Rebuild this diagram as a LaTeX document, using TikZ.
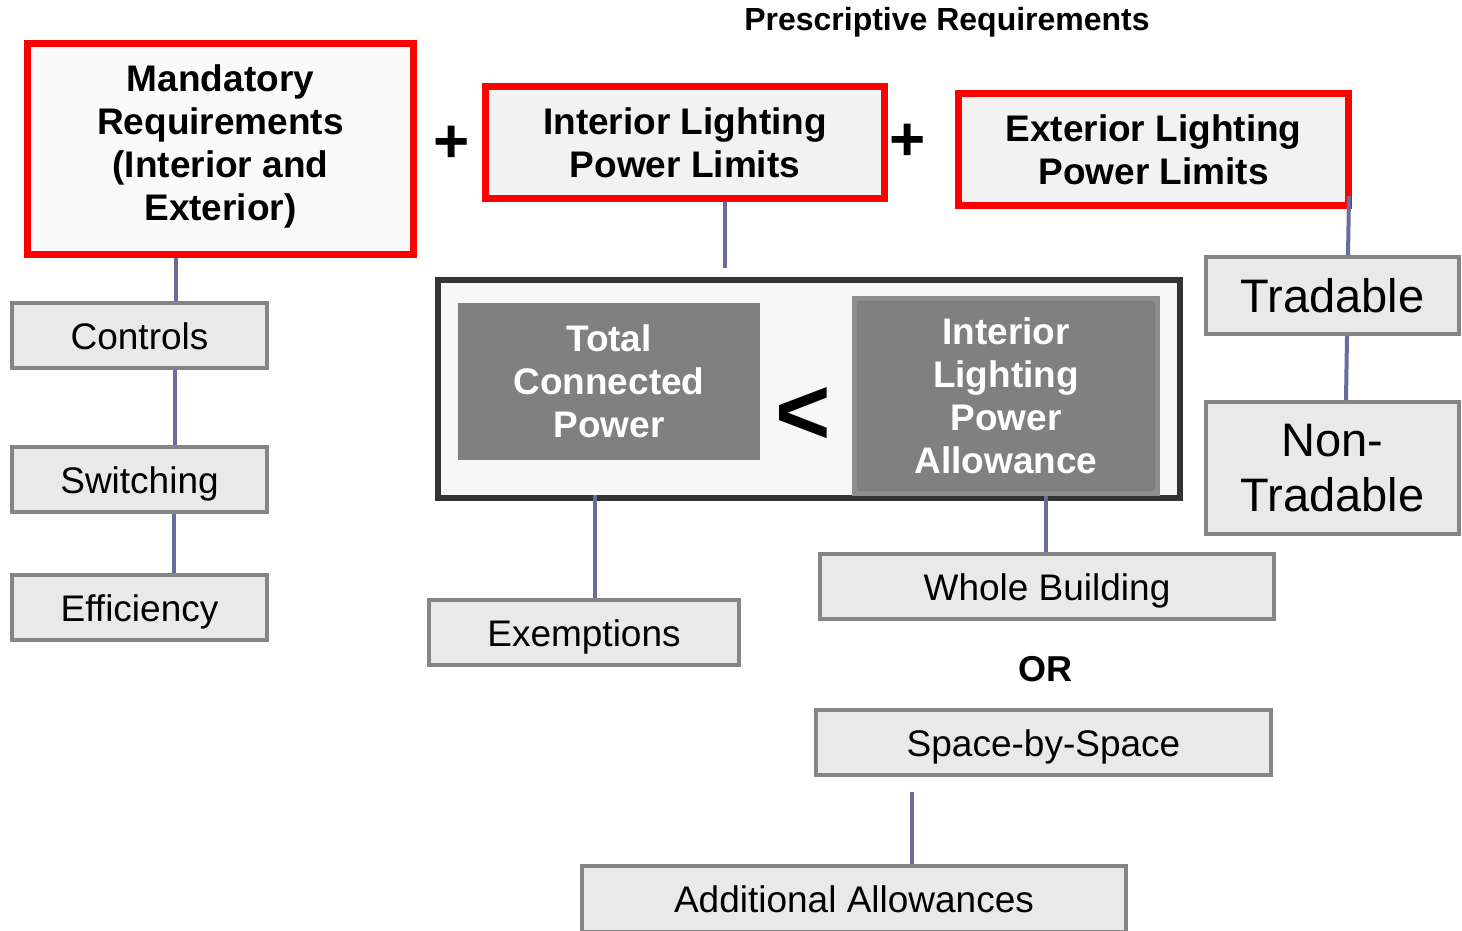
\documentclass[tikz,border=0pt]{standalone}
\usepackage{fontspec}
\setmainfont{Liberation Sans}
\definecolor{conn}{HTML}{6B6B9E}
\definecolor{boxgray}{HTML}{E9E9E9}
\definecolor{boxedge}{HTML}{858585}
\definecolor{darkfill}{HTML}{808080}
\definecolor{darkedge}{HTML}{8E8E8E}
\definecolor{bigedge}{HTML}{333333}
\tikzset{
  redbox/.style={draw=red, line width=7pt, fill=#1, inner sep=0pt, align=center,
    font=\fontsize{37}{43}\selectfont\bfseries},
  graybox/.style={draw=boxedge, line width=4pt, fill=boxgray, inner sep=0pt, align=center,
    font=\fontsize{37}{43}\selectfont},
  oneline/.style={text height=27pt, text depth=0pt},
  bigbox/.style={draw=bigedge, line width=6pt, fill=black!3, inner sep=0pt},
  darkbox/.style={fill=darkfill, inner sep=0pt, align=center, text=white,
    font=\fontsize{37}{43}\selectfont\bfseries},
  connector/.style={draw=conn, line width=4pt},
  plain/.style={inner sep=0pt, align=center}
}
\begin{document}
\begin{tikzpicture}[x=1pt,y=-1pt]
\useasboundingbox (0,0) rectangle (1462,930);
% title
\node[plain, font=\fontsize{32}{36}\selectfont\bfseries] (title) at (947,22) {Prescriptive Requirements};
% red boxes
\node[redbox=black!2, minimum width=386pt, minimum height=211pt] (mand) at (220.5,149)
  {Mandatory\\Requirements\\(Interior and\\Exterior)\rule[-12pt]{0pt}{0pt}};
\node[redbox=black!5, minimum width=399pt, minimum height=112pt] (ilpl) at (685,142.5)
  {Interior Lighting\\Power Limits};
\node[redbox=black!5, minimum width=390pt, minimum height=112pt] (elpl) at (1153.5,149.5)
  {Exterior Lighting\\Power Limits};
\node[plain, font=\fontsize{62}{62}\selectfont\bfseries] (plus1) at (452,144) {+};
\node[plain, font=\fontsize{62}{62}\selectfont\bfseries] (plus2) at (908,142) {+};
% left column
\node[graybox, oneline, minimum width=255pt, minimum height=65pt] (ctrl) at (139.5,335.5) {Controls};
\node[graybox, oneline, minimum width=255pt, minimum height=65pt] (swit) at (139.5,479.5) {Switching};
\node[graybox, oneline, minimum width=255pt, minimum height=65pt] (effi) at (139.5,607.5) {Efficiency};
% big box
\node[bigbox, minimum width=742pt, minimum height=218pt] (big) at (809,389) {};
\node[darkbox, minimum width=302pt, minimum height=157pt] (tcp) at (609,381.5)
  {Total\\Connected\\Power};
\node[darkbox, draw=darkedge, line width=5pt, minimum width=303pt, minimum height=195pt] (ilpa) at (1006,396)
  {Interior\\Lighting\\Power\\Allowance};
\node[plain, font=\fontsize{95}{95}\selectfont\bfseries] (lt) at (803,416) {<};
% lower boxes
\node[graybox, oneline, minimum width=310pt, minimum height=65pt] (exem) at (584,632.5) {Exemptions};
\node[graybox, oneline, minimum width=454pt, minimum height=65pt] (whole) at (1047,586.5) {Whole Building};
\node[plain, font=\fontsize{36}{40}\selectfont\bfseries] (or) at (1045,669) {OR};
\node[graybox, oneline, minimum width=455pt, minimum height=65pt] (space) at (1043.5,742.5) {Space-by-Space};
\node[graybox, oneline, minimum width=544pt, minimum height=66pt] (addl) at (854,899) {Additional Allowances};
% right column
\node[graybox, font=\fontsize{47}{55}\selectfont, minimum width=253pt, minimum height=77pt] (trad) at (1332.5,295.5) {Tradable};
\node[graybox, font=\fontsize{47}{55}\selectfont, minimum width=253pt, minimum height=132pt] (ntrad) at (1332.5,468) {Non-\\Tradable};
% connectors
\draw[connector] (mand.south -| 176,0) -- (ctrl.north -| 176,0);
\draw[connector] (ctrl.south -| 175,0) -- (swit.north -| 175,0);
\draw[connector] (swit.south -| 174,0) -- (effi.north -| 174,0);
\coordinate (ilplend) at ([yshift=9pt]big.north -| 725,0);
\draw[connector] (ilpl.south -| 725,0) -- (ilplend);
\draw[connector] ([yshift=13pt]elpl.south -| 1349,0) -- (trad.north -| 1348,0);
\draw[connector] (trad.south -| 1347,0) -- (ntrad.north -| 1346,0);
\draw[connector] ([yshift=6pt]big.south -| 595,0) -- (exem.north -| 595,0);
\draw[connector] (ilpa.south -| 1046,0) -- (whole.north -| 1046,0);
\draw[connector] ([yshift=-15pt]space.south -| 912,0) -- (addl.north -| 912,0);
\end{tikzpicture}
\end{document}
